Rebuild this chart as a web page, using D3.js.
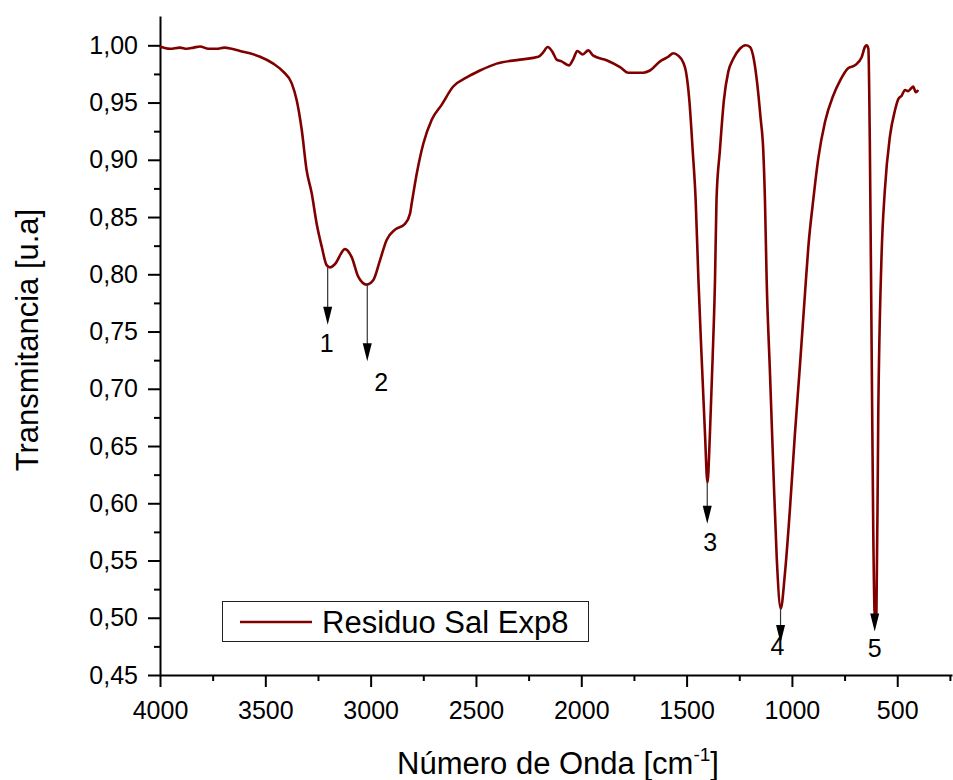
<!DOCTYPE html>
<html>
<head>
<meta charset="utf-8">
<script src="https://cdn.jsdelivr.net/npm/d3@7"></script>
<style>
  body { margin: 0; background: #fff; }
  text { font-family: Arial, "Liberation Sans", sans-serif; fill: #000; }
</style>
</head>
<body>
<div id="svgContainer"></div>
<script>
const width = 953;
const height = 780;
const margin = ({top: 16, right: 1, bottom: 105, left: 160});

// spectrum
const waveNumbers = [
  4000, 3953, 3905, 3873, 3840, 3810, 3770, 3731, 3695, 3660, 3620, 3573, 3525, 3462, 3415, 3375,
  3351, 3327, 3304, 3280, 3256, 3232, 3209, 3193, 3169, 3122, 3090, 3059, 3019, 2987,
  2956, 2924, 2884, 2837, 2813, 2805, 2781, 2750, 2710, 2663, 2608, 2544, 2481, 2402,
  2291, 2204, 2180, 2160, 2136, 2117, 2094, 2059, 2038, 2019, 1993, 1967, 1943, 1880,
  1816, 1777, 1706, 1674, 1626, 1587, 1563, 1540, 1516, 1503, 1487, 1471, 1457, 1444,
  1429, 1413, 1401, 1389, 1376, 1365, 1358, 1342, 1323, 1302, 1279, 1247, 1220, 1199,
  1180, 1165, 1149, 1136, 1128, 1120, 1104, 1088, 1072, 1053, 1033, 1009, 986, 962,
  938, 922, 898, 875, 843, 804, 772, 733, 701, 669, 653, 645, 637, 630, 622, 614,
  606, 599, 590, 575, 559, 535, 511, 495, 479, 463, 448, 436, 424, 412, 400
];
const transmittance = [
  0.999, 0.997, 0.998, 0.997, 0.998, 0.999, 0.997, 0.997, 0.998, 0.997, 0.995, 0.993, 0.990, 0.984, 0.977, 0.967,
  0.952, 0.926, 0.891, 0.871, 0.844, 0.824, 0.808, 0.806, 0.809, 0.822, 0.815, 0.798, 0.791, 0.795,
  0.812, 0.830, 0.839, 0.844, 0.853, 0.862, 0.888, 0.914, 0.935, 0.948, 0.964, 0.972, 0.978, 0.984,
  0.9875, 0.990, 0.994, 0.9985, 0.994, 0.9875, 0.986, 0.9825, 0.988, 0.995, 0.992, 0.9956, 0.991, 0.987,
  0.981, 0.976, 0.976, 0.978, 0.986, 0.990, 0.993, 0.991, 0.985, 0.977, 0.952, 0.908, 0.865, 0.796,
  0.729, 0.662, 0.618, 0.662, 0.729, 0.796, 0.865, 0.908, 0.952, 0.977, 0.988, 0.997, 1.000, 0.9985,
  0.987, 0.967, 0.937, 0.908, 0.865, 0.796, 0.713, 0.629, 0.552, 0.508, 0.539, 0.596, 0.660, 0.720,
  0.783, 0.824, 0.866, 0.901, 0.933, 0.956, 0.969, 0.980, 0.9825, 0.9895, 0.9987, 1.000, 0.997, 0.913, 0.746, 0.579,
  0.500, 0.500, 0.679, 0.813, 0.873, 0.920, 0.943, 0.953, 0.956, 0.961, 0.960, 0.962, 0.964, 0.959, 0.961
];
const seriesName = "Residuo Sal Exp8";

const xTicks = [4000, 3500, 3000, 2500, 2000, 1500, 1000, 500];
const xMinorTicks = [3750, 3250, 2750, 2250, 1750, 1250, 750, 250];
const yTicks = [0.45, 0.50, 0.55, 0.60, 0.65, 0.70, 0.75, 0.80, 0.85, 0.90, 0.95, 1.00];
const yMinorTicks = [0.475, 0.525, 0.575, 0.625, 0.675, 0.725, 0.775, 0.825, 0.875, 0.925, 0.975];

// marked bands: label, position, arrow start and tip
const peakLabels = ["1", "2", "3", "4", "5"];
const peakWave = [3204, 3016, 1402, 1054, 607];
const peakFrom = [0.806, 0.791, 0.618, 0.509, 0.504];
const peakTip = [0.756, 0.724, 0.582, 0.478, 0.488];

const data = waveNumbers.map((w, i) => ({w: w, t: transmittance[i]}));
const peaks = peakLabels.map((l, i) => ({label: l, w: peakWave[i], from: peakFrom[i], tip: peakTip[i]}));
const labelOffset = [[-1, 27], [14, 30], [3, 27], [-3, 12], [0, 26]];

const svg = d3.select("#svgContainer").append("svg")
  .attr("width", width)
  .attr("height", height);

const x = d3.scaleLinear()
  .domain([4000, 240])
  .range([margin.left, width - margin.right]);

const y = d3.scaleLinear()
  .domain([0.45, 1.0256])
  .range([height - margin.bottom, margin.top]);

const commaFmt = d => d3.format(".2f")(d).replace(".", ",");

const xAxis = g => g
  .attr("transform", `translate(0,${height - margin.bottom})`)
  .call(d3.axisBottom(x).tickValues(xTicks).tickFormat(d3.format("d")).tickSize(12).tickPadding(14).tickSizeOuter(0))
  .call(g => g.selectAll("text").attr("font-size", 25).attr("font-family", "Arial, 'Liberation Sans', sans-serif"));

const xMinor = g => g
  .attr("transform", `translate(0,${height - margin.bottom})`)
  .call(d3.axisBottom(x).tickValues(xMinorTicks).tickFormat("").tickSize(6).tickSizeOuter(0))
  .call(g => g.select(".domain").remove());

const yAxis = g => g
  .attr("transform", `translate(${margin.left},0)`)
  .call(d3.axisLeft(y).tickValues(yTicks).tickFormat(commaFmt).tickSize(12).tickPadding(10).tickSizeOuter(0))
  .call(g => g.selectAll("text").attr("font-size", 25).attr("font-family", "Arial, 'Liberation Sans', sans-serif"));

const yMinor = g => g
  .attr("transform", `translate(${margin.left},0)`)
  .call(d3.axisLeft(y).tickValues(yMinorTicks).tickFormat("").tickSize(6).tickSizeOuter(0))
  .call(g => g.select(".domain").remove());

svg.append("g").call(xMinor);
svg.append("g").call(yMinor);
svg.append("g").call(xAxis);
svg.append("g").call(yAxis);

svg.selectAll(".domain, .tick line")
  .attr("stroke", "#000")
  .attr("stroke-width", 2);

// spectrum
const line = d3.line()
  .x(d => x(d.w))
  .y(d => y(d.t))
  .curve(d3.curveMonotoneX);

svg.append("path")
  .datum(data)
  .attr("fill", "none")
  .attr("stroke", "#800000")
  .attr("stroke-width", 2.6)
  .attr("stroke-linejoin", "round")
  .attr("d", line);

// arrows
const ann = svg.append("g");
peaks.forEach((p, i) => {
  const px = x(p.w);
  const y0 = y(p.from);
  const yt = y(p.tip);
  ann.append("line")
    .attr("x1", px).attr("x2", px)
    .attr("y1", y0).attr("y2", yt - 14)
    .attr("stroke", "#333")
    .attr("stroke-width", 1.2);
  ann.append("path")
    .attr("d", `M${px - 4.5},${yt - 18} L${px + 4.5},${yt - 18} L${px},${yt} Z`)
    .attr("fill", "#000");
  ann.append("text")
    .attr("x", px + labelOffset[i][0])
    .attr("y", yt + labelOffset[i][1])
    .attr("text-anchor", "middle")
    .attr("font-size", 25)
    .text(p.label);
});

// legend
const legend = svg.append("g");
legend.append("rect")
  .attr("x", 222.5).attr("y", 601.5)
  .attr("width", 366).attr("height", 40)
  .attr("fill", "#fff")
  .attr("stroke", "#222")
  .attr("stroke-width", 1);
legend.append("line")
  .attr("x1", 240).attr("x2", 312)
  .attr("y1", 622).attr("y2", 622)
  .attr("stroke", "#800000")
  .attr("stroke-width", 2.6);
legend.append("text")
  .attr("x", 322)
  .attr("y", 633)
  .attr("font-size", 31)
  .text(seriesName);

// axis titles
const xt = svg.append("text")
  .attr("x", 558)
  .attr("y", 774)
  .attr("text-anchor", "middle")
  .attr("font-size", 31);
xt.append("tspan").text("Número de Onda [cm");
xt.append("tspan").attr("font-size", 19).attr("dy", -13).text("-1");
xt.append("tspan").attr("dy", 13).text("]");

svg.append("text")
  .attr("transform", "translate(38,340) rotate(-90)")
  .attr("text-anchor", "middle")
  .attr("font-size", 31)
  .text("Transmitancia [u.a]");
</script>
</body>
</html>
